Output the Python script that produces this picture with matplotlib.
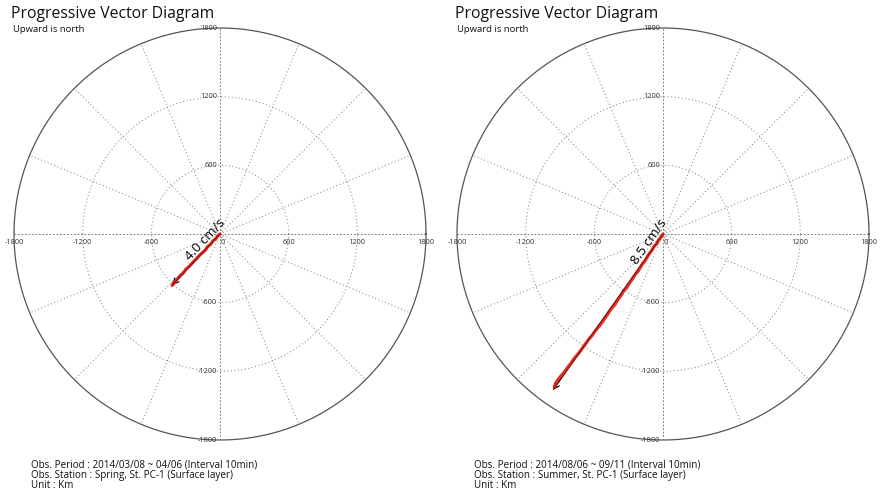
import numpy as np
import matplotlib
matplotlib.use("Agg")
import matplotlib.pyplot as plt

# ---------------- data ----------------
ring_values = [600, 1200]
outer_radius = 1800
tick_values = [-1800, -1200, -600, 600, 1200, 1800]
spoke_step_deg = 22.5

titles = ["Progressive Vector Diagram", "Progressive Vector Diagram"]
subtitles = ["Upward is north", "Upward is north"]
footers = [
    ["Obs. Period : 2014/03/08 ~ 04/06 (Interval 10min)",
     "Obs. Station : Spring, St. PC-1 (Surface layer)",
     "Unit : Km"],
    ["Obs. Period : 2014/08/06 ~ 09/11 (Interval 10min)",
     "Obs. Station : Summer, St. PC-1 (Surface layer)",
     "Unit : Km"],
]
speed_labels = ["4.0 cm/s", "8.5 cm/s"]
mean_tip_x = [-419, -961]
mean_tip_y = [-446, -1363]

spring_x = [0, -20, -35, -62, -80, -110, -125, -150, -178, -200, -222, -250,
            -270, -300, -318, -345, -370, -392, -410, -418]
spring_y = [0, -15, -40, -60, -88, -112, -138, -160, -185, -210, -232, -262,
            -285, -310, -338, -362, -390, -415, -438, -450]

summer_x = [0, -18, -40, -55, -80, -98, -120, -140, -155, -180, -200, -215,
            -240, -262, -280, -300, -318, -345, -362, -385, -405, -420, -448,
            -470, -488, -510, -530, -552, -575, -600, -620, -645, -668, -690,
            -712, -735, -760, -785, -805, -830, -852, -875, -900, -925, -950]
summer_y = [0, -30, -55, -85, -112, -145, -172, -205, -232, -262, -295, -322,
            -350, -385, -412, -440, -470, -498, -530, -560, -590, -618, -648,
            -680, -708, -738, -768, -798, -826, -858, -888, -915, -948, -978,
            -1008, -1040, -1068, -1100, -1132, -1160, -1192, -1222, -1250,
            -1282, -1340]

tracks_x = [spring_x, summer_x]
tracks_y = [spring_y, summer_y]

# ---------------- layout ----------------
W, H = 882, 504
fig = plt.figure(figsize=(W / 100, H / 100), dpi=100)
plt.rcParams['font.family'] = ['Open Sans', 'DejaVu Sans']

centers_px = [(220, 234), (663, 234)]
R_px = 206
title_x_px = [11, 455]
footer_x_px = [31, 474]

grid_col = '#7a7a7a'
dot = (0, (1.0, 2.6))
for i in range(2):
    cx, cy = centers_px[i]
    ax = fig.add_axes([(cx - R_px) / W, (H - cy - R_px) / H, 2 * R_px / W, 2 * R_px / H])
    ax.set_xlim(-outer_radius, outer_radius)
    ax.set_ylim(-outer_radius, outer_radius)
    ax.set_aspect('equal')
    ax.axis('off')

    t = np.linspace(0, 2 * np.pi, 400)
    ax.plot(outer_radius * np.cos(t), outer_radius * np.sin(t), color='#555555', lw=0.9, clip_on=False)
    for r in ring_values:
        ax.plot(r * np.cos(t), r * np.sin(t), color=grid_col, lw=0.7, ls=dot)
    angs = np.arange(0, 360, spoke_step_deg)
    for a in angs:
        if a % 90 == 0:
            continue
        ar = np.deg2rad(a)
        ax.plot([0, outer_radius * np.cos(ar)], [0, outer_radius * np.sin(ar)],
                color=grid_col, lw=0.7, ls=dot)
    ax.plot([-outer_radius, outer_radius], [0, 0], color=grid_col, lw=0.7, ls=(0, (1.8, 1.8)))
    ax.plot([0, 0], [-outer_radius, outer_radius], color=grid_col, lw=0.7, ls=(0, (1.8, 1.8)))

    for v in tick_values:
        ax.text(v, -45, str(v), ha='center', va='top', fontsize=5.4, color='#333333', clip_on=False)
        ax.text(-25, v, str(v), ha='right', va='center', fontsize=5.4, color='#333333', clip_on=False)
    ax.text(25, -45, "0", ha='center', va='top', fontsize=5.4, color='#333333')

    # trajectory
    ax.annotate("", xy=(mean_tip_x[i], mean_tip_y[i]), xytext=(0, 0),
                arrowprops=dict(arrowstyle='->', color='black', lw=0.9,
                                mutation_scale=10, shrinkA=0, shrinkB=0), zorder=3)
    ax.plot(tracks_x[i], tracks_y[i], color='#e3231b', lw=2.3, solid_capstyle='round', zorder=4, alpha=0.95)
    ax.plot([0, mean_tip_x[i]], [0, mean_tip_y[i]], color='#3a0000', lw=0.5, zorder=5, alpha=0.6)
    ang = np.degrees(np.arctan2(mean_tip_y[i], mean_tip_x[i])) + 180
    ur = np.deg2rad(ang)
    ux, uy = np.cos(ur), np.sin(ur)
    d = -125
    off = 60
    tx = ux * d - uy * off
    ty = uy * d + ux * off
    ax.text(tx, ty, speed_labels[i], rotation=ang, rotation_mode='anchor',
            ha='center', va='center', fontsize=9.5, color='black', zorder=6)

    fig.text(title_x_px[i] / W, 1 - 14 / H, titles[i], fontsize=11.3, va='center', ha='left', color='#111111')
    fig.text((title_x_px[i] + 2) / W, 1 - 29 / H, subtitles[i], fontsize=6.8, va='center', ha='left', color='#111111')
    for k, line in enumerate(footers[i]):
        fig.text(footer_x_px[i] / W, 1 - (465 + 10.5 * k) / H, line, fontsize=7.1,
                 va='center', ha='left', color='#111111')

fig.savefig("out.png", dpi=100)
